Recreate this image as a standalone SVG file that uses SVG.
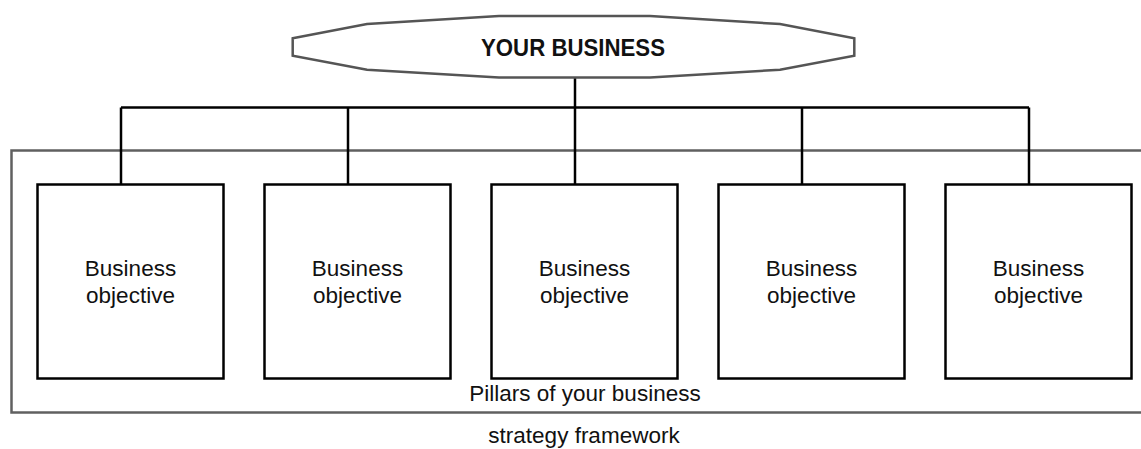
<svg xmlns="http://www.w3.org/2000/svg" width="1141" height="449" viewBox="0 0 1141 449">
<style>
.frame{fill:none;stroke:#606060;stroke-width:2.5}
.hex{fill:#fff;stroke:#555;stroke-width:2.5}
.box{fill:#fff;stroke:#000;stroke-width:2.5}
.conn{fill:none;stroke:#000;stroke-width:2.5}
.t{font-family:"Liberation Sans",Arial,sans-serif;font-size:22.5px;fill:#111;text-anchor:middle}
.tb{font-family:"Liberation Sans",Arial,sans-serif;font-size:23.5px;font-weight:bold;fill:#111;text-anchor:middle}
</style>
<rect id="framework" class="frame" x="11.5" y="150.5" width="1140" height="262"/>
<g id="connectors">
<line class="conn" x1="575" y1="77" x2="575" y2="185"/>
<line class="conn" x1="121" y1="107.5" x2="1029" y2="107.5"/>
<line class="conn" x1="121" y1="107.5" x2="121" y2="185"/>
<line class="conn" x1="348" y1="107.5" x2="348" y2="185"/>
<line class="conn" x1="802" y1="107.5" x2="802" y2="185"/>
<line class="conn" x1="1029" y1="107.5" x2="1029" y2="185"/>
</g>
<g id="your-business">
<polygon class="hex" points="292.7,38.3 367,24 499,16 650,16 780,24 854.3,38.3 854.3,55.7 780,69.7 650,77.5 499,77.5 367,69.7 292.7,55.7"/>
<text class="tb" x="573" y="56" textLength="184" lengthAdjust="spacingAndGlyphs">YOUR BUSINESS</text>
</g>
<g id="objective1">
<rect class="box" x="37.5" y="184.5" width="186" height="194"/>
<text class="t" x="130.5" y="275.7">Business</text>
<text class="t" x="130.5" y="303.3">objective</text>
</g>
<g id="objective2">
<rect class="box" x="264.5" y="184.5" width="186" height="194"/>
<text class="t" x="357.5" y="275.7">Business</text>
<text class="t" x="357.5" y="303.3">objective</text>
</g>
<g id="objective3">
<rect class="box" x="491.5" y="184.5" width="186" height="194"/>
<text class="t" x="584.5" y="275.7">Business</text>
<text class="t" x="584.5" y="303.3">objective</text>
</g>
<g id="objective4">
<rect class="box" x="718.5" y="184.5" width="186" height="194"/>
<text class="t" x="811.5" y="275.7">Business</text>
<text class="t" x="811.5" y="303.3">objective</text>
</g>
<g id="objective5">
<rect class="box" x="945.5" y="184.5" width="186" height="194"/>
<text class="t" x="1038.5" y="275.7">Business</text>
<text class="t" x="1038.5" y="303.3">objective</text>
</g>
<text class="t" x="585" y="400.7">Pillars of your business</text>
<text class="t" x="584" y="443">strategy framework</text>
</svg>
